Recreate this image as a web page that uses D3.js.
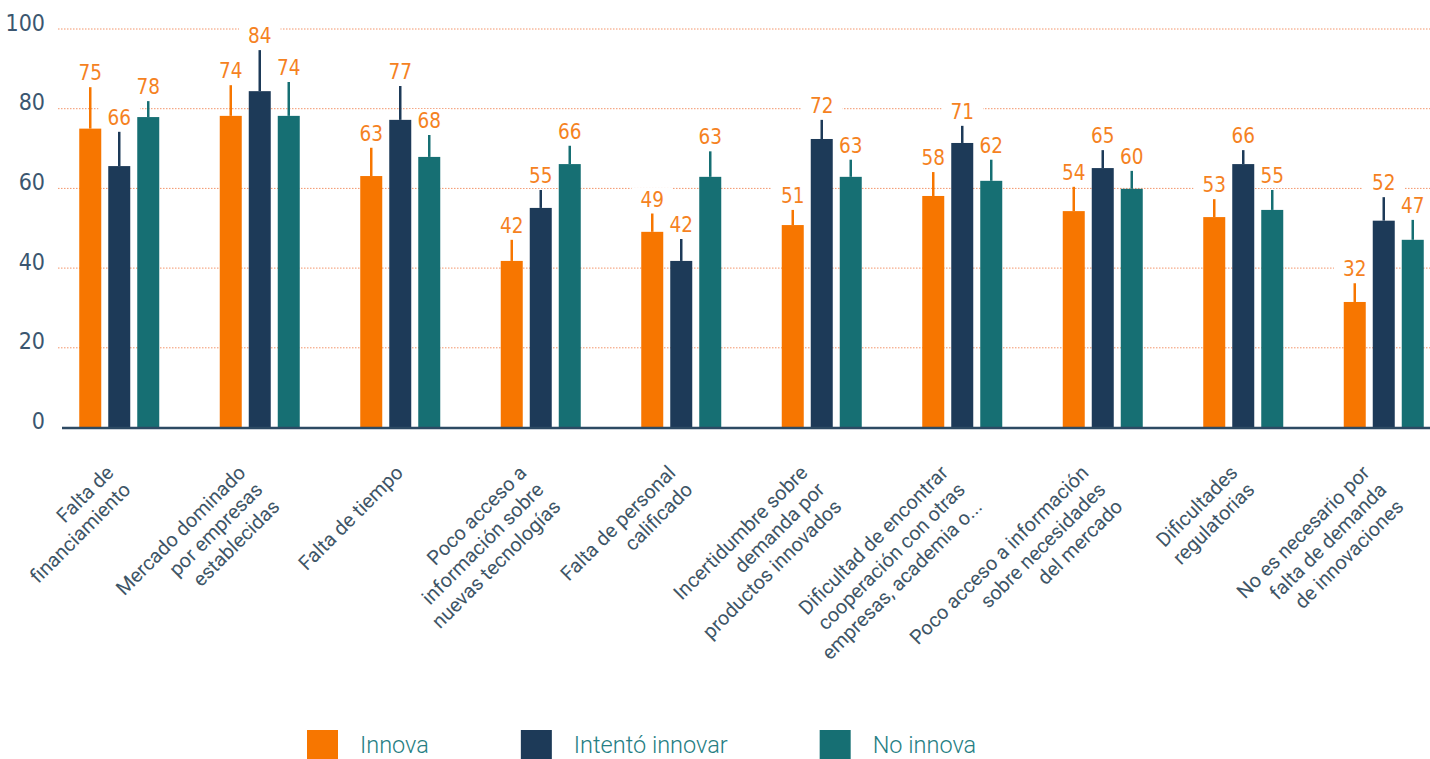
<!DOCTYPE html>
<meta charset="utf-8">
<style>
body { margin: 0; background: #fff; }
svg { display: block; }
.ytick { font-family: "Liberation Sans Narrow", "DejaVu Sans Condensed", Roboto, sans-serif; font-size: 23px; fill: #3b5670; }
.val { font-family: "Liberation Sans Narrow", "DejaVu Sans Condensed", Roboto, sans-serif; font-size: 20.5px; fill: #f5821f; }
.cat { font-family: Roboto, sans-serif; font-size: 20px; fill: #3e5566; }
.leg { font-family: Roboto, sans-serif; font-size: 23.5px; font-weight: 300; fill: #267e83; }
</style>
<svg width="1430" height="759"></svg>
<script src="https://cdnjs.cloudflare.com/ajax/libs/d3/7.8.5/d3.min.js"></script>
<script>

// categories, one label line per array item
var categories = [
  ["Falta de", "financiamiento"],
  ["Mercado dominado", "por empresas", "establecidas"],
  ["Falta de tiempo"],
  ["Poco acceso a", "información sobre", "nuevas tecnologías"],
  ["Falta de personal", "calificado"],
  ["Incertidumbre sobre", "demanda por", "productos innovados"],
  ["Dificultad de encontrar", "cooperación con otras", "empresas, academia o..."],
  ["Poco acceso a información", "sobre necesidades", "del mercado"],
  ["Dificultades", "regulatorias"],
  ["No es necesario por", "falta de demanda", "de innovaciones"]
];

var series = ["Innova", "Intentó innovar", "No innova"];
var colors = ["#f77600", "#1d3a58", "#166f73"];

// bar heights (%)
var innova   = [75, 78.2, 63.1, 41.8, 49.1, 50.8, 58.1, 54.3, 52.8, 31.5];
var intento  = [65.6, 84.4, 77.2, 55.1, 41.8, 72.4, 71.4, 65.1, 66.1, 51.9];
var noInnova = [77.9, 78.2, 67.9, 66.1, 62.9, 62.9, 61.9, 59.9, 54.6, 47.1];

// upper end of the error bars
var innovaHi   = [85.4, 85.9, 70.2, 47.1, 53.7, 54.6, 64.1, 60.4, 57.3, 36.2];
var intentoHi  = [74.2, 94.7, 85.7, 59.6, 47.3, 77.2, 75.7, 69.6, 69.6, 57.8];
var noInnovaHi = [81.9, 86.7, 73.4, 70.7, 69.3, 67.2, 67.2, 64.4, 59.6, 52.1];

// printed labels
var innovaLbl   = ["75", "74", "63", "42", "49", "51", "58", "54", "53", "32"];
var intentoLbl  = ["66", "84", "77", "55", "42", "72", "71", "65", "66", "52"];
var noInnovaLbl = ["78", "74", "68", "66", "63", "63", "62", "60", "55", "47"];

var yTicks = [0, 20, 40, 60, 80, 100];

var svg = d3.select("svg");

var x = d3.scaleBand()
    .domain(d3.range(categories.length))
    .range([49, 1454]);

var xs = d3.scaleBand()
    .domain(series)
    .range([-43.5, 43.5])
    .paddingInner(7 / 29)
    .paddingOuter(3.5 / 29);

var y = d3.scaleLinear()
    .domain([0, 100])
    .range([427.5, 29]);

var rows = [];
[innova, intento, noInnova].forEach(function(vals, s) {
  var hi = [innovaHi, intentoHi, noInnovaHi][s];
  var lbl = [innovaLbl, intentoLbl, noInnovaLbl][s];
  vals.forEach(function(v, i) {
    rows.push({ cat: i, s: s, key: series[s], v: v, hi: hi[i], lbl: lbl[i] });
  });
});

function cx(d) { return x(d.cat) + x.bandwidth() / 2 + xs(d.key) + xs.bandwidth() / 2; }
function ly(d) { return y(d.hi) - 7; }

// grid
svg.append("g")
  .selectAll("line")
  .data(yTicks.filter(function(t) { return t > 0; }))
  .enter().append("line")
    .attr("x1", 58)
    .attr("x2", 1430)
    .attr("y1", function(d) { return y(d); })
    .attr("y2", function(d) { return y(d); })
    .attr("stroke", "#f3946a")
    .attr("stroke-width", 1)
    .attr("stroke-dasharray", "1.5,1.5");

// y tick labels
svg.append("g")
  .selectAll("text")
  .data(yTicks)
  .enter().append("text")
    .attr("class", "ytick")
    .attr("x", 45)
    .attr("y", function(d) { return y(d) + 1.5; })
    .attr("text-anchor", "end")
    .text(function(d) { return d; });

// white boxes behind value labels (they cut the grid), under the bars
var boxes = svg.append("g");

// bars
svg.append("g")
  .selectAll("rect")
  .data(rows)
  .enter().append("rect")
    .attr("x", function(d) { return cx(d) - xs.bandwidth() / 2; })
    .attr("y", function(d) { return y(d.v); })
    .attr("width", xs.bandwidth())
    .attr("height", function(d) { return y(0) - y(d.v); })
    .attr("fill", function(d) { return colors[d.s]; });

// error bars (upper half only)
svg.append("g")
  .selectAll("line")
  .data(rows)
  .enter().append("line")
    .attr("x1", cx)
    .attr("x2", cx)
    .attr("y1", function(d) { return y(d.v); })
    .attr("y2", function(d) { return y(d.hi); })
    .attr("stroke", function(d) { return colors[d.s]; })
    .attr("stroke-width", 2.5);

// value labels
var vt = svg.append("g")
  .selectAll("text")
  .data(rows)
  .enter().append("text")
    .attr("class", "val")
    .attr("x", cx)
    .attr("y", ly)
    .attr("text-anchor", "middle")
    .text(function(d) { return d.lbl; });

vt.each(function(d) {
  var bb = this.getBBox();
  boxes.append("rect")
    .attr("x", bb.x - 9)
    .attr("y", bb.y)
    .attr("width", bb.width + 18)
    .attr("height", bb.height)
    .attr("fill", "#fff");
});

// baseline
svg.append("line")
    .attr("x1", 62)
    .attr("x2", 1430)
    .attr("y1", y(0) + 0.5)
    .attr("y2", y(0) + 0.5)
    .attr("stroke", "#2d4a63")
    .attr("stroke-width", 2.5);

// category labels, rotated
var lineH = 24;
svg.append("g")
  .selectAll("text")
  .data(categories)
  .enter().append("text")
    .attr("class", "cat")
    .attr("text-anchor", "end")
    .attr("transform", function(d, i) {
      var c = x(i) + x.bandwidth() / 2;
      var off = (d.length - 1) / 2 * lineH * Math.SQRT1_2;
      return "translate(" + (c - off + 4) + "," + 474 + ") rotate(-45)";
    })
  .selectAll("tspan")
  .data(function(d) { return d; })
  .enter().append("tspan")
    .attr("x", 0)
    .attr("dy", function(d, i) { return i === 0 ? 0 : lineH; })
    .text(function(d) { return d; });

// legend
var lx = 307;
series.forEach(function(s, i) {
  svg.append("rect")
      .attr("x", lx)
      .attr("y", 730)
      .attr("width", 31)
      .attr("height", 31)
      .attr("fill", colors[i]);
  var t = svg.append("text")
      .attr("class", "leg")
      .attr("x", lx + 53)
      .attr("y", 753)
      .text(s);
  lx += 53 + t.node().getComputedTextLength() + 92;
});

</script>
